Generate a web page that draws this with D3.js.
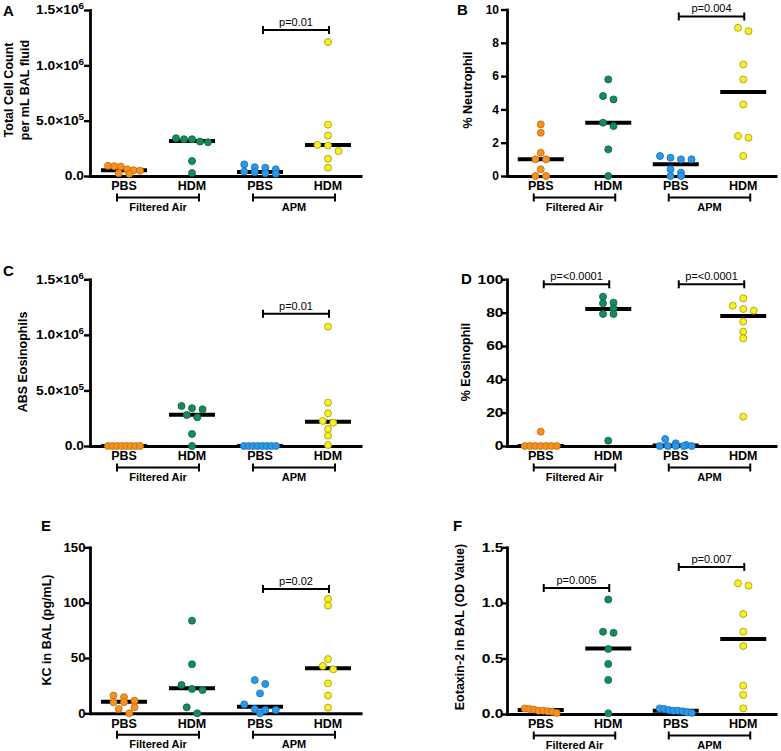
<!DOCTYPE html>
<html><head><meta charset="utf-8">
<script src="https://cdn.jsdelivr.net/npm/d3@7"></script>
<style>body{margin:0;background:#fff}svg{display:block}text{font-family:"Liberation Sans",Arial,Helvetica,sans-serif}</style>
</head><body>
<svg id="chart" width="781" height="751"></svg>
<script>
// ---------- data ----------
const categories = ["PBS", "HDM", "PBS", "HDM"];
const groupNames = ["Filtered Air", "APM"];
const panelLetters = ["A", "B", "C", "D", "E", "F"];
const yTitles = [
  ["Total Cell Count", "per mL BAL fluid"],
  ["% Neutrophil"],
  ["ABS Eosinophils"],
  ["% Eosinophil"],
  ["KC in BAL (pg/mL)"],
  ["Eotaxin-2 in BAL (OD Value)"]
];
const yMaxes = [1.5e6, 10, 1.5e6, 100, 150, 1.5];
const yTicksA = [0, 5e5, 1e6, 1.5e6];
const yTickLabelsA = ["0.0", "5.0×10^5", "1.0×10^6", "1.5×10^6"];
const yTicksB = [0, 2, 4, 6, 8, 10];
const yTickLabelsB = ["0", "2", "4", "6", "8", "10"];
const yTicksC = [0, 5e5, 1e6, 1.5e6];
const yTickLabelsC = ["0.0", "5.0×10^5", "1.0×10^6", "1.5×10^6"];
const yTicksD = [0, 20, 40, 60, 80, 100];
const yTickLabelsD = ["0", "20", "40", "60", "80", "100"];
const yTicksE = [0, 50, 100, 150];
const yTickLabelsE = ["0", "50", "100", "150"];
const yTicksF = [0, 0.5, 1.0, 1.5];
const yTickLabelsF = ["0.0", "0.5", "1.0", "1.5"];

// values per group: [FA PBS, FA HDM, APM PBS, APM HDM]
const totalCells = [
  [92000, 88000, 85000, 60000, 52000, 48000, 25000, 20000],
  [341000, 332000, 332000, 311000, 305000, 135000, 27000],
  [105000, 80000, 75000, 60000, 40000, 35000, 25000, 20000],
  [1210000, 464000, 365000, 281000, 275000, 225000, 156000, 75000]
];
const totalCellsMedian = [51000, 317000, 36000, 280000];

const neutrophilPct = [
  [3.1, 2.6, 1.4, 1.0, 1.0, 0.4, 0, 0],
  [5.8, 4.8, 4.6, 3.2, 3.0, 1.6, 0],
  [1.2, 1.1, 1.0, 1.0, 0.4, 0.2, 0, 0],
  [8.9, 8.7, 6.7, 5.8, 4.3, 2.4, 2.3, 1.2]
];
const neutrophilMedian = [1.0, 3.2, 0.7, 5.05];

const absEosinophils = [
  [0, 0, 0, 0, 0, 0, 0, 0],
  [360000, 340000, 330000, 279000, 258000, 108000, 0],
  [0, 0, 0, 0, 0, 0, 0, 0],
  [1074000, 390000, 294000, 225000, 210000, 153000, 93000, 9000]
];
const absEosinophilsMedian = [0, 282000, 0, 219000];

const eosinophilPct = [
  [8.6, 0, 0, 0, 0, 0, 0, 0],
  [89.6, 86, 85.6, 82.6, 79.2, 79.2, 3.2],
  [4.2, 1.6, 0.6, 0, 0, 0, 0, 0],
  [88.6, 84.2, 82.2, 81.2, 74.6, 68.6, 64.6, 17.6]
];
const eosinophilMedian = [0, 82.2, 0.3, 78];

const kcBal = [
  [16, 14.5, 11.4, 10, 10, 5.4, 3.9, 0],
  [83.7, 44.3, 25.6, 22, 21, 5.4, 0],
  [30, 26.5, 18, 8.1, 3.9, 3, 3, 0],
  [103.3, 97.3, 49, 42.8, 39.8, 27, 16, 5.1]
];
const kcMedian = [10.5, 22.6, 6, 40.7];

const eotaxin2 = [
  [0.05, 0.045, 0.04, 0.03, 0.03, 0.025, 0.02, 0.01],
  [1.03, 0.74, 0.73, 0.585, 0.45, 0.306, 0.006],
  [0.05, 0.045, 0.035, 0.03, 0.03, 0.025, 0.015, 0.01],
  [1.176, 1.155, 0.9, 0.74, 0.612, 0.255, 0.171, 0.051]
];
const eotaxinMedian = [0.035, 0.59, 0.03, 0.675];

// significance brackets: [fromGroup, toGroup, yValue, label]
const pValuesA = [[2, 3, 1.32e6, "p=0.01"]];
const pValuesB = [[2, 3, 9.58, "p=0.004"]];
const pValuesC = [[2, 3, 1.19e6, "p=0.01"]];
const pValuesD = [[0, 1, 97, "p=<0.0001"], [2, 3, 97, "p=<0.0001"]];
const pValuesE = [[2, 3, 112.3, "p=0.02"]];
const pValuesF = [[0, 1, 1.134, "p=0.005"], [2, 3, 1.323, "p=0.007"]];

// ---------- styles / layout ----------
const fills = ["#F5921E", "#168A5A", "#2C98E8", "#F6F02C"];
const strokes = ["#C9700E", "#0F6B45", "#1B76C2", "#AFA200"];

const layout = [
  {x0: 90, x1: 362, yB: 176, yT: 10, letter: [3, 16], titleX: [13, 29], titleY: 90, tickSX: 1.15, tickEnd: 6},
  {x0: 507, x1: 777, yB: 176, yT: 9.5, letter: [457, 15], titleX: [472], titleY: 90, tickSX: 1.0, tickEnd: 8},
  {x0: 90, x1: 362, yB: 446, yT: 279.3, letter: [3, 276], titleX: [27], titleY: 362, tickSX: 1.15, tickEnd: 6},
  {x0: 507, x1: 777, yB: 446, yT: 279.3, letter: [461, 284], titleX: [470], titleY: 362, tickSX: 1.3, tickEnd: 3.5},
  {x0: 90, x1: 362, yB: 713.3, yT: 547.3, letter: [41, 531], titleX: [51], titleY: 630, tickSX: 1.1, tickEnd: 4.5},
  {x0: 507, x1: 777, yB: 714, yT: 547.3, letter: [453, 531], titleX: [464], titleY: 627, tickSX: 1.3, tickEnd: 3.5}
];

const panels = [
  {values: totalCells, medians: totalCellsMedian, ticks: yTicksA, tickLabels: yTickLabelsA, pv: pValuesA},
  {values: neutrophilPct, medians: neutrophilMedian, ticks: yTicksB, tickLabels: yTickLabelsB, pv: pValuesB},
  {values: absEosinophils, medians: absEosinophilsMedian, ticks: yTicksC, tickLabels: yTickLabelsC, pv: pValuesC},
  {values: eosinophilPct, medians: eosinophilMedian, ticks: yTicksD, tickLabels: yTickLabelsD, pv: pValuesD},
  {values: kcBal, medians: kcMedian, ticks: yTicksE, tickLabels: yTickLabelsE, pv: pValuesE},
  {values: eotaxin2, medians: eotaxinMedian, ticks: yTicksF, tickLabels: yTickLabelsF, pv: pValuesF}
];

const svg = d3.select("#chart");
const R = 3.5;
const ROW_H = 6.5, SPACING = 10.5, MAX_SPAN = 32;

// row-binned column scatter: points close in y share a row, spread symmetrically
function scatterOffsets(ys) {
  const order = ys.map((y, i) => i).sort((a, b) => ys[a] - ys[b]);
  const offs = new Array(ys.length).fill(0);
  let row = [];
  const flush = () => {
    const n = row.length;
    const sp = n > 1 ? Math.min(SPACING, MAX_SPAN / (n - 1)) : 0;
    row.forEach((idx, k) => { offs[idx] = (k - (n - 1) / 2) * sp; });
    row = [];
  };
  let startY = null;
  order.forEach(i => {
    if (startY === null || ys[i] - startY >= ROW_H) { if (row.length) flush(); startY = ys[i]; }
    row.push(i);
  });
  if (row.length) flush();
  return offs;
}

panels.forEach((p, pi) => {
  const L = layout[pi];
  const g = svg.append("g");
  const y = d3.scaleLinear().domain([0, yMaxes[pi]]).range([L.yB, L.yT]);
  const x = d3.scaleBand().domain([0, 1, 2, 3]).range([L.x0, L.x1]);
  const cx = i => x(i) + x.bandwidth() / 2;

  // y axis
  const yAxis = g.append("g").attr("transform", `translate(${L.x0},0)`)
    .call(d3.axisLeft(y).tickValues(p.ticks).tickSizeInner(6).tickSizeOuter(0).tickPadding(2)
      .tickFormat((d, i) => p.tickLabels[i]));
  yAxis.select(".domain").attr("stroke", "#000").attr("stroke-width", 2.8).attr("stroke-linecap", "square");
  yAxis.selectAll(".tick line").attr("stroke", "#000").attr("stroke-width", 2.4);
  yAxis.selectAll(".tick text").each(function (d, i) {
    const t = d3.select(this);
    const lab = p.tickLabels[i];
    t.text(null).attr("x", 0).attr("font-size", 12).attr("font-weight", "bold").attr("fill", "#000")
      .attr("font-family", null).attr("transform", `translate(${-L.tickEnd},0) scale(${L.tickSX},1)`);
    const parts = lab.split("^");
    t.append("tspan").text(parts[0]);
    if (parts[1]) t.append("tspan").attr("dy", -5).attr("font-size", 8.5).text(parts[1]);
  });

  // x axis
  const xAxis = g.append("g").attr("transform", `translate(0,${L.yB})`)
    .call(d3.axisBottom(x).tickSize(0).tickSizeOuter(0).tickPadding(5.5).tickFormat(i => categories[i]));
  xAxis.select(".domain").attr("stroke", "#000").attr("stroke-width", 3);
  xAxis.selectAll(".tick text").attr("font-size", 12.5).attr("font-weight", "bold").attr("fill", "#000").attr("font-family", null);

  // group brackets
  groupNames.forEach((gn, gi) => {
    const a = cx(gi * 2) - 7, b = cx(gi * 2 + 1) + 7, yy = L.yB + 21.5;
    g.append("line").attr("x1", a).attr("x2", b).attr("y1", yy).attr("y2", yy).attr("stroke", "#000").attr("stroke-width", 2);
    [a, b].forEach(xx => g.append("line").attr("x1", xx).attr("x2", xx).attr("y1", yy - 4).attr("y2", yy + 4).attr("stroke", "#000").attr("stroke-width", 2));
    g.append("text").attr("x", (a + b) / 2).attr("y", L.yB + 34.5).attr("text-anchor", "middle")
      .attr("font-size", 11).attr("font-weight", "bold").text(gn);
  });

  // median lines (drawn under points)
  const medG = g.append("g");
  p.values.forEach((vals, gi) => {
    const ys = vals.map(v => y(v));
    const offs = scatterOffsets(ys);
    g.append("g").selectAll("circle").data(vals).join("circle")
      .attr("cx", (d, i) => cx(gi) + offs[i]).attr("cy", d => y(d)).attr("r", R)
      .attr("fill", fills[gi]).attr("stroke", strokes[gi]).attr("stroke-width", 0.9);
  });
  p.medians.forEach((m, gi) => {
    medG.append("line").attr("x1", cx(gi) - 23).attr("x2", cx(gi) + 23)
      .attr("y1", y(m)).attr("y2", y(m)).attr("stroke", "#000").attr("stroke-width", 4);
  });

  // significance brackets
  p.pv.forEach(([a, b, v, lab]) => {
    const xa = cx(a) + 3, xb = cx(b) + 1, yy = y(v);
    g.append("line").attr("x1", xa).attr("x2", xb).attr("y1", yy).attr("y2", yy).attr("stroke", "#000").attr("stroke-width", 2);
    [xa, xb].forEach(xx => g.append("line").attr("x1", xx).attr("x2", xx).attr("y1", yy - 4).attr("y2", yy + 4).attr("stroke", "#000").attr("stroke-width", 2));
    g.append("text").attr("x", (xa + xb) / 2).attr("y", yy - 4).attr("text-anchor", "middle")
      .attr("font-size", 11).text(lab);
  });

  // y title
  yTitles[pi].forEach((t, li) => {
    g.append("text").attr("transform", `translate(${L.titleX[li]},${L.titleY}) rotate(-90)`)
      .attr("text-anchor", "middle").attr("font-size", 12.5).attr("font-weight", "bold").text(t);
  });

  // panel letter
  g.append("text").attr("x", L.letter[0]).attr("y", L.letter[1]).attr("font-size", 15).attr("font-weight", "bold").text(panelLetters[pi]);
});
</script>
</body></html>
